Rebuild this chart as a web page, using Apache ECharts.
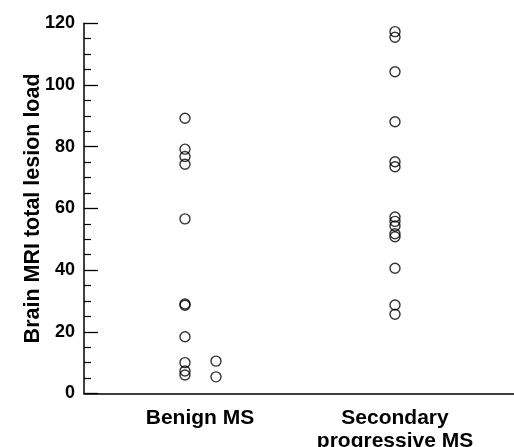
<!DOCTYPE html>
<html>
<head>
<meta charset="utf-8">
<script src="https://cdn.jsdelivr.net/npm/echarts@6/dist/echarts.min.js"></script>
<style>
html,body{margin:0;padding:0;background:#fff;}
#chart{width:514px;height:447px;}
</style>
</head>
<body>
<div id="chart"></div>
<script>
// Group labels
const categories = ['Benign MS', 'Secondary\nprogressive MS'];
// Benign MS, main column
const benignMain = [89.2, 79.2, 76.8, 74.3, 56.6, 29.0, 28.6, 18.4, 10.0, 7.3, 6.0];
// Benign MS, side column
const benignSide = [10.5, 5.4];
// Secondary progressive MS
const secondary = [117.3, 115.5, 104.3, 88.1, 75.1, 73.5, 57.2, 55.8, 54.3, 51.8, 50.8, 40.6, 28.7, 25.7];
// Y tick labels
const yTicks = [0, 20, 40, 60, 80, 100, 120];

// horizontal placement of columns (axis units; groups at 1 and 2)
const groupPos = [1, 2];
const colPos = { benignMain: 0.923, benignSide: 1.082, secondary: 2.0 };

const pts = (vals, x) => vals.map(v => [x, v]);

const font = '"Liberation Sans", Arial, Helvetica, sans-serif';
const chart = echarts.init(document.getElementById('chart'));
const symStyle = { color: 'rgba(0,0,0,0)', borderColor: '#000', borderWidth: 1.4 };

chart.setOption({
  animation: false,
  backgroundColor: '#fff',
  grid: { left: 84, right: 0, top: 23.3, bottom: 53.5, containLabel: false, outerBoundsMode: 'none' },
  xAxis: {
    type: 'value',
    min: 0.4051, max: 2.6103,
    splitLine: { show: false },
    axisLine: { lineStyle: { color: '#000', width: 1.5 } },
    axisTick: { show: false },
    axisLabel: {
      customValues: groupPos,
      formatter: v => categories[groupPos.indexOf(v)] || '',
      color: '#000', fontFamily: font, fontWeight: 'bold', fontSize: 21,
      lineHeight: 23, margin: 13
    }
  },
  yAxis: {
    type: 'value',
    min: yTicks[0], max: yTicks[yTicks.length - 1], interval: 20,
    name: 'Brain MRI total lesion load',
    nameLocation: 'middle', nameGap: 40, nameMoveOverlap: false,
    nameTextStyle: { color: '#000', fontFamily: font, fontWeight: 'bold', fontSize: 21.5 },
    splitLine: { show: false },
    axisLine: { show: true, lineStyle: { color: '#000', width: 1.5 } },
    axisTick: { show: true, inside: true, length: 14, lineStyle: { color: '#000', width: 1.3 } },
    minorTick: { show: true, splitNumber: 4, length: 7, lineStyle: { color: '#000', width: 1.2 } },
    axisLabel: { color: '#000', fontFamily: font, fontWeight: 'bold', fontSize: 18, margin: 9 }
  },
  series: [
    { type: 'scatter', symbol: 'circle', symbolSize: 10, itemStyle: symStyle, data: pts(benignMain, colPos.benignMain) },
    { type: 'scatter', symbol: 'circle', symbolSize: 10, itemStyle: symStyle, data: pts(benignSide, colPos.benignSide) },
    { type: 'scatter', symbol: 'circle', symbolSize: 10, itemStyle: symStyle, data: pts(secondary, colPos.secondary) }
  ]
});
</script>
</body>
</html>
